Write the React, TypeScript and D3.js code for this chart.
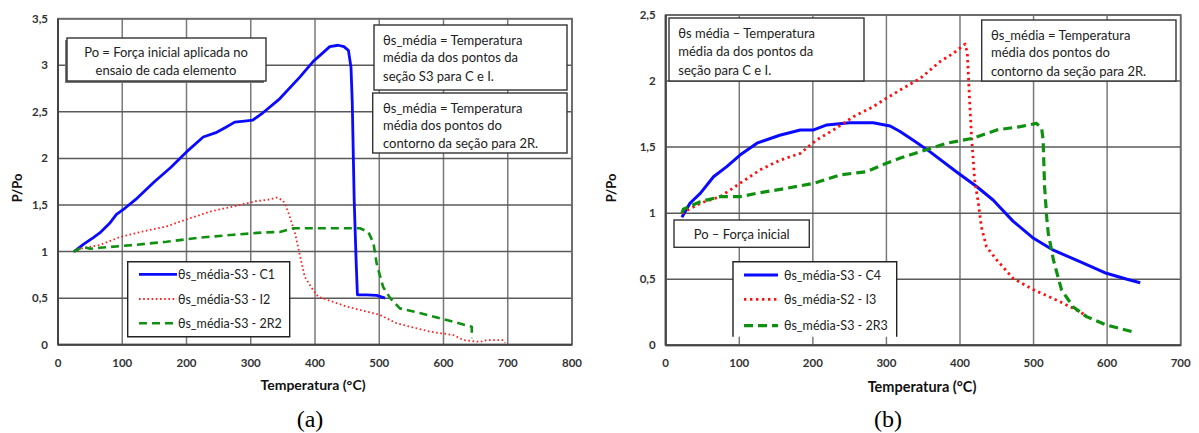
import React from "react";
import * as d3 from "d3";

type Pt = [number, number];

// Panel (a): temperature (°C) vs P/Po
const c1: Pt[] = [[25,1.0],[40,1.08],[55,1.15],[65,1.2],[80,1.3],[91,1.4],[105,1.47],[121,1.56],[150,1.75],[175,1.9],[200,2.07],[226,2.23],[247,2.28],[260,2.33],[275,2.39],[290,2.4],[303,2.41],[319,2.49],[345,2.64],[376,2.87],[397,3.04],[410,3.12],[423,3.2],[436,3.215],[445,3.2],[452,3.16],[456,2.98],[458,2.6],[461,1.55],[464,0.9],[466,0.536],[480,0.535],[496,0.53],[509,0.5]];
const i2: Pt[] = [[24,1.0],[40,1.04],[65,1.07],[96,1.155],[128,1.21],[169,1.27],[200,1.345],[237,1.43],[283,1.5],[307,1.54],[330,1.56],[340,1.58],[350,1.55],[354,1.5],[359,1.41],[369,1.195],[377,0.944],[384,0.73],[397,0.587],[405,0.515],[449,0.41],[501,0.32],[527,0.23],[579,0.14],[615,0.104],[631,0.05],[657,0.03],[667,0.05],[693,0.05],[696,0.02]];
const r2: Pt[] = [[24,1.0],[39,1.05],[50,1.03],[65,1.04],[117,1.07],[169,1.105],[221,1.15],[273,1.18],[319,1.205],[345,1.21],[366,1.25],[470,1.25],[483,1.21],[491,1.09],[496,0.87],[506,0.62],[517,0.5],[532,0.39],[563,0.34],[605,0.265],[644,0.193],[644,0.07]];

// Panel (b)
const c4: Pt[] = [[22,0.97],[33,1.075],[47,1.15],[65,1.276],[83,1.352],[101,1.44],[124,1.53],[155,1.59],[183,1.63],[201,1.63],[219,1.668],[250,1.685],[282,1.685],[305,1.66],[318,1.62],[336,1.554],[359,1.466],[395,1.314],[423,1.2],[445,1.1],[472,0.94],[500,0.81],[527,0.72],[563,0.633],[599,0.545],[627,0.5],[645,0.474]];
const i3: Pt[] = [[22,1.0],[47,1.075],[74,1.125],[101,1.226],[128,1.327],[155,1.4],[183,1.453],[205,1.554],[228,1.63],[255,1.73],[282,1.806],[300,1.87],[318,1.93],[346,2.02],[373,2.148],[391,2.21],[407,2.28],[410,2.21],[413,1.857],[416,1.554],[420,1.25],[425,1.075],[429,0.898],[436,0.746],[450,0.646],[472,0.507],[500,0.42],[531,0.343],[554,0.28],[570,0.23]];
const r3: Pt[] = [[22,1.0],[24,1.03],[47,1.087],[74,1.125],[101,1.125],[128,1.155],[164,1.188],[201,1.226],[237,1.29],[273,1.314],[300,1.378],[318,1.415],[346,1.466],[382,1.53],[418,1.567],[450,1.63],[482,1.655],[504,1.68],[511,1.643],[513,1.554],[515,1.2],[518,0.96],[520,0.848],[527,0.646],[538,0.42],[554,0.29],[572,0.217],[599,0.154],[636,0.1]];

const xTicksA = [0, 100, 200, 300, 400, 500, 600, 700, 800];
const yTicksA = [0, 0.5, 1, 1.5, 2, 2.5, 3, 3.5];
const xTicksB = [0, 100, 200, 300, 400, 500, 600, 700];
const yTicksB = [0, 0.5, 1, 1.5, 2, 2.5];

const legendA = ["θs_média-S3 - C1", "θs_média-S3 - I2", "θs_média-S3 - 2R2"];
const legendB = ["θs_média-S3 - C4", "θs_média-S2 - I3", "θs_média-S3 - 2R3"];

const FONT = "Lato, 'Open Sans', sans-serif";
const fmt = (v: number) => String(v).replace(".", ",");

type Style = { color: string; width: number; dash?: string; cap?: string };

interface Note { x: number; y: number; w: number; h: number; lines: string[]; align: "start" | "middle"; shadow?: boolean; tx: number; ty: number[] }

interface PanelProps {
  x0: number; x1: number; y0: number; y1: number;
  xMax: number; yMax: number;
  xTicks: number[]; yTicks: number[];
  series: Pt[][]; styles: Style[];
  legend: string[];
  leg: { x: number; y: number; w: number; h: number; rows: number[]; lx0: number; lx1: number; tx: number; bottom: boolean };
  notes: Note[];
  yLabelX: number; xLabelX: number; xLabelY: number; xLabelSize: number;
  caption: string; captionX: number;
}

function Panel(p: PanelProps) {
  const xs = d3.scaleLinear().domain([0, p.xMax]).range([p.x0, p.x1]);
  const ys = d3.scaleLinear().domain([0, p.yMax]).range([p.y1, p.y0]);
  const line = d3.line<Pt>().x(d => xs(d[0])).y(d => ys(d[1]));
  return (
    <g>
      <rect x={p.x0} y={p.y0} width={p.x1 - p.x0} height={p.y1 - p.y0} fill="#fff" />
      {p.xTicks.map(t => (
        <line key={"gx" + t} x1={xs(t)} x2={xs(t)} y1={p.y0} y2={p.y1} stroke="#7a7a7a" strokeWidth={1.5} />
      ))}
      {p.yTicks.map(t => (
        <line key={"gy" + t} x1={p.x0} x2={p.x1} y1={ys(t)} y2={ys(t)} stroke="#5a5a5a" strokeWidth={1.5} />
      ))}
      <rect x={p.x0} y={p.y0} width={p.x1 - p.x0} height={p.y1 - p.y0} fill="none" stroke="#6a6a6a" strokeWidth={1.8} />
      <line x1={p.x0} x2={p.x0} y1={p.y0} y2={p.y1} stroke="#444" strokeWidth={2} />
      <line x1={p.x0} x2={p.x1} y1={p.y1} y2={p.y1} stroke="#444" strokeWidth={2} />
      {p.yTicks.map(t => (
        <text key={"ty" + t} x={p.x0 - 10} y={ys(t) + 4} textAnchor="end" fontFamily={FONT} fontWeight="bold" fontSize={11.5} fill="#333">{fmt(t)}</text>
      ))}
      {p.xTicks.map(t => (
        <text key={"tx" + t} x={xs(t)} y={p.y1 + 22} textAnchor="middle" fontFamily={FONT} fontWeight="bold" fontSize={11.5} fill="#333">{t}</text>
      ))}
      <text transform={`translate(${p.yLabelX},188) rotate(-90)`} textAnchor="middle" fontFamily={FONT} fontWeight="bold" fontSize={13} fill="#111">P/Po</text>
      <text x={p.xLabelX} y={p.xLabelY} textAnchor="middle" fontFamily={FONT} fontWeight="bold" fontSize={p.xLabelSize} fill="#111">Temperatura (°C)</text>
      <text x={p.captionX} y={427} textAnchor="middle" fontFamily="'Liberation Serif', serif" fontSize={24} fill="#000">{p.caption}</text>

      {p.series.map((s, i) => (
        <path key={"s" + i} d={line(s) || ""} fill="none" stroke={p.styles[i].color} strokeWidth={p.styles[i].width}
          strokeDasharray={p.styles[i].dash} strokeLinecap={(p.styles[i].cap as any) || "butt"} strokeLinejoin="round" />
      ))}

      {p.notes.map((n, i) => (
        <g key={"n" + i}>
          {n.shadow && <rect x={n.x - 2} y={n.y + 2} width={n.w} height={n.h} fill="#777" />}
          <rect x={n.x} y={n.y} width={n.w} height={n.h} fill="#fff" stroke="#333" strokeWidth={1.4} />
          {n.lines.map((l, j) => (
            <text key={j} x={n.tx} y={n.ty[j]} textAnchor={n.align} fontFamily={FONT} fontSize={13} fill="#222">{l}</text>
          ))}
        </g>
      ))}

      <g>
        <rect x={p.leg.x} y={p.leg.y} width={p.leg.w} height={p.leg.h} fill="#fff" stroke="none" />
        <path d={p.leg.bottom
          ? `M${p.leg.x},${p.leg.y}H${p.leg.x + p.leg.w}V${p.leg.y + p.leg.h}H${p.leg.x}Z`
          : `M${p.leg.x},${p.leg.y + p.leg.h}V${p.leg.y}H${p.leg.x + p.leg.w}V${p.leg.y + p.leg.h}`}
          fill="none" stroke="#222" strokeWidth={1.4} />
        {p.legend.map((l, i) => (
          <g key={"l" + i}>
            <line x1={p.leg.lx0} x2={p.leg.lx1} y1={p.leg.rows[i]} y2={p.leg.rows[i]} stroke={p.styles[i].color}
              strokeWidth={p.styles[i].width} strokeDasharray={p.styles[i].dash} strokeLinecap={(p.styles[i].cap as any) || "butt"} />
            <text x={p.leg.tx} y={p.leg.rows[i] + 4.5} fontFamily={FONT} fontSize={12.5} fill="#222">{l}</text>
          </g>
        ))}
      </g>
    </g>
  );
}

export default function App() {
  const stylesA: Style[] = [
    { color: "#0a0aff", width: 2.8 },
    { color: "#ff2020", width: 1.8, dash: "1.6,2.6" },
    { color: "#109010", width: 2.6, dash: "8,5" },
  ];
  const stylesB: Style[] = [
    { color: "#0a0aff", width: 3 },
    { color: "#ff1010", width: 2.8, dash: "2.4,3.6" },
    { color: "#109010", width: 3.2, dash: "9,5" },
  ];
  return (
    <svg width={1199} height={433} style={{ position: "absolute", left: 0, top: 0, background: "#fff" }}>
      <rect width={1199} height={433} fill="#fff" />
      <Panel x0={58} x1={572} y0={18.7} y1={344.7} xMax={800} yMax={3.5}
        xTicks={xTicksA} yTicks={yTicksA} series={[c1, i2, r2]} styles={stylesA} legend={legendA}
        leg={{ x: 127.7, y: 261.7, w: 162, h: 75, rows: [274.3, 299, 323.3], lx0: 139, lx1: 177, tx: 178, bottom: true }}
        notes={[
          { x: 67, y: 38, w: 199, h: 43, lines: ["Po = Força inicial aplicada no", "ensaio de cada elemento"], align: "middle", shadow: true, tx: 166, ty: [57, 74.5] },
          { x: 374, y: 25, w: 193, h: 65, lines: ["θs_média = Temperatura", "média da dos pontos da", "seção S3  para C e I."], align: "start", tx: 383, ty: [44.5, 62, 80.5] },
          { x: 372.7, y: 93, w: 194.3, h: 60, lines: ["θs_média = Temperatura", "média dos pontos do", "contorno da seção para 2R."], align: "start", tx: 383, ty: [112.5, 130, 148] },
        ]}
        yLabelX={22} xLabelX={313} xLabelY={390} xLabelSize={14} caption="(a)" captionX={310} />
      <Panel x0={665.7} x1={1180.7} y0={15} y1={345.3} xMax={700} yMax={2.5}
        xTicks={xTicksB} yTicks={yTicksB} series={[c4, i3, r3]} styles={stylesB} legend={legendB}
        leg={{ x: 733, y: 261.7, w: 163.7, h: 75, rows: [275, 299.3, 325.7], lx0: 744, lx1: 778, tx: 784, bottom: false }}
        notes={[
          { x: 669, y: 18, w: 195, h: 63, lines: ["θs  média – Temperatura", "média da dos pontos da", "seção para C e I."], align: "start", tx: 678.3, ty: [37.5, 56, 74.5] },
          { x: 981.7, y: 20, w: 194.3, h: 61, lines: ["θs_média = Temperatura", "média dos pontos do", "contorno da seção para 2R."], align: "start", tx: 991, ty: [39.5, 57, 75.5] },
          { x: 674, y: 220, w: 135.3, h: 27.3, lines: ["Po – Força inicial"], align: "middle", tx: 741.7, ty: [238.5] },
        ]}
        yLabelX={616} xLabelX={922} xLabelY={392} xLabelSize={14.5} caption="(b)" captionX={888} />
    </svg>
  );
}
